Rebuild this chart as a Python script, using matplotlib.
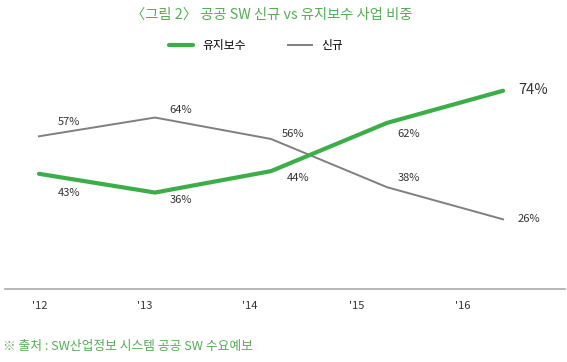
import matplotlib.pyplot as plt

plt.rcParams["font.family"] = ["Noto Sans CJK KR", "DejaVu Sans"]

years = ["'12", "'13", "'14", "'15", "'16"]
maint = [43, 36, 44, 62, 74]    # 유지보수
new = [57, 64, 56, 38, 26]      # 신규

green = "#3cae48"
gray = "#7f7f7f"
text_green = "#55ac55"

x = list(range(len(years)))

fig = plt.figure(figsize=(5.67, 3.62), dpi=100)
ax = fig.add_axes([0.0088, 0.2017, 0.9877, 0.592])

ax.plot(x, maint, color=green, lw=3.0, solid_capstyle="round", label="유지보수", zorder=3)
ax.plot(x, new, color=gray, lw=1.4, label="신규", zorder=2)

# label offsets in pixels (dx, dy)
maint_off = [(30, -19), (26, -7), (27, -7), (22, -11), (30, 1)]
new_off = [(30, 14), (26, 8), (22, 5), (22, 9), (26, 0)]

for i, v in enumerate(maint):
    big = i == len(maint) - 1
    ax.annotate(f"{v}%", (x[i], v), xytext=maint_off[i], textcoords="offset pixels",
                ha="center", va="center", fontsize=10.5 if big else 8, color="#333333")
for i, v in enumerate(new):
    ax.annotate(f"{v}%", (x[i], v), xytext=new_off[i], textcoords="offset pixels",
                ha="center", va="center", fontsize=8, color="#333333")

ax.set_xlim(-0.293, 4.534)
ax.set_ylim(0, 80)
ax.set_xticks([0.01, 0.91, 1.82, 2.74, 3.65])
ax.set_xticklabels(years, fontsize=8, color="#333333")
ax.tick_params(axis="x", length=0, pad=9)
ax.set_yticks([])
for s in ["top", "left", "right"]:
    ax.spines[s].set_visible(False)
ax.spines["bottom"].set_color("#aaaaaa")
ax.spines["bottom"].set_linewidth(1.2)

fig.text(0.479, 0.958, "〈그림 2〉 공공 SW 신규 vs 유지보수 사업 비중", ha="center", va="center",
         fontsize=10.3, color=text_green, fontweight="medium")
fig.legend(loc="center", bbox_to_anchor=(0.452, 0.873), ncol=2, frameon=False,
           fontsize=8.5, handlelength=2.0, handletextpad=0.8, columnspacing=3.6)
fig.text(0.005, 0.044, "※ 출처 : SW산업정보 시스템 공공 SW 수요예보", ha="left", va="center",
         fontsize=9.2, color=text_green, fontweight="medium")

plt.savefig("out.png", dpi=100)
plt.close()
